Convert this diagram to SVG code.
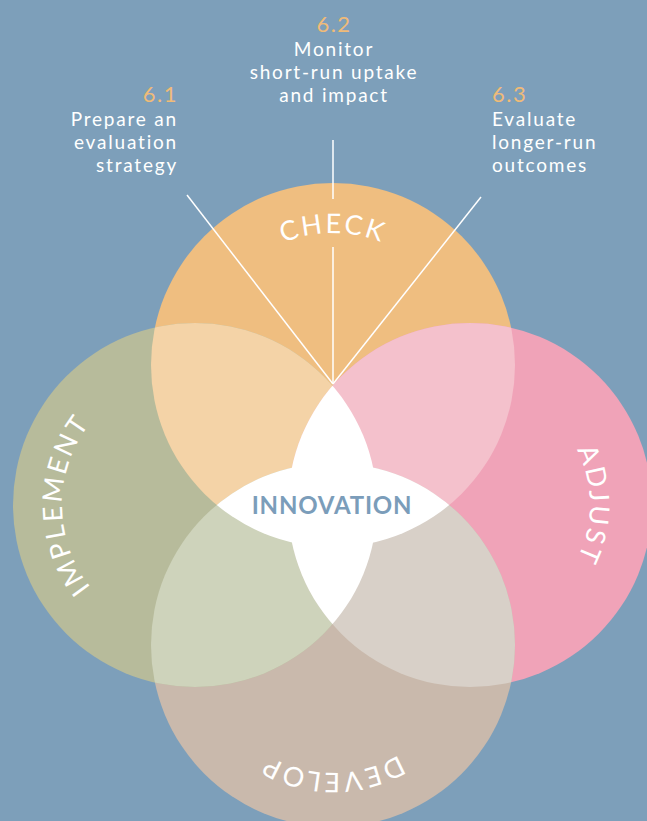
<svg xmlns="http://www.w3.org/2000/svg" width="647" height="821" viewBox="0 0 647 821">
<style>
.lbl{font-family:Lato,"Noto Sans",sans-serif;font-size:19px;letter-spacing:1.8px;fill:#ffffff}
.num{font-family:Lato,"Noto Sans",sans-serif;font-size:22px;letter-spacing:1.5px;fill:#f0bb78}
.arc{font-family:Lato,"Noto Sans",sans-serif;font-size:27px;letter-spacing:2.5px;fill:#ffffff}
.ray{stroke:#ffffff;stroke-width:1.5;fill:none}
</style>
<defs>
<clipPath id="cT"><circle cx="333" cy="365" r="182"/></clipPath>
<clipPath id="cB"><circle cx="333" cy="645" r="182"/></clipPath>
<clipPath id="cL"><circle cx="195" cy="505" r="182"/></clipPath>
<clipPath id="cR"><circle cx="470" cy="505" r="182"/></clipPath>
<path id="pC" d="M 201 365 A 132 132 0 0 1 465 365"/>
<path id="pA" d="M 470 385 A 120 120 0 0 1 470 625"/>
<path id="pD" d="M 461 645 A 128 128 0 0 1 205 645"/>
<path id="pI" d="M 195 638 A 133 133 0 0 1 195 372"/>
</defs>
<rect width="647" height="821" fill="#7d9fba"/>
<g id="circles">
<circle id="check" cx="333" cy="365" r="182" fill="#efbe80"/>
<circle id="adjust" cx="470" cy="505" r="182" fill="#f0a3b8"/>
<circle id="develop" cx="333" cy="645" r="182" fill="#c9b9ac"/>
<circle id="implement" cx="195" cy="505" r="182" fill="#b7bb9b"/>
</g>
<g id="overlaps">
<circle cx="333" cy="365" r="182" fill="#f4d3a7" clip-path="url(#cL)"/>
<circle cx="333" cy="365" r="182" fill="#f4c1cc" clip-path="url(#cR)"/>
<circle cx="333" cy="645" r="182" fill="#ced3bb" clip-path="url(#cL)"/>
<circle cx="333" cy="645" r="182" fill="#d8d0c8" clip-path="url(#cR)"/>
</g>
<g id="innovation">
<circle cx="195" cy="505" r="182" fill="#ffffff" clip-path="url(#cR)"/>
<circle cx="333" cy="365" r="182" fill="#ffffff" clip-path="url(#cB)"/>
<text x="332" y="514" text-anchor="middle" font-family="Lato,'Noto Sans',sans-serif" font-weight="bold" font-size="24" letter-spacing="0.8" fill="#7b9dba">INNOVATION</text>
</g>
<g id="connectors">
<line class="ray" x1="187" y1="195" x2="333" y2="384"/>
<line class="ray" x1="333" y1="140" x2="333" y2="199"/>
<line class="ray" x1="333" y1="247" x2="333" y2="384"/>
<line class="ray" x1="481" y1="197" x2="333" y2="384"/>
</g>
<g id="arc-labels">
<text class="arc"><textPath href="#pC" startOffset="50%" text-anchor="middle">CHECK</textPath></text>
<text class="arc"><textPath href="#pA" startOffset="50%" text-anchor="middle">ADJUST</textPath></text>
<text class="arc"><textPath href="#pD" startOffset="50%" text-anchor="middle">DEVELOP</textPath></text>
<text class="arc"><textPath href="#pI" startOffset="50%" text-anchor="middle">IMPLEMENT</textPath></text>
</g>
<g id="step61" text-anchor="end">
<text class="num" x="178" y="102">6.1</text>
<text class="lbl" x="178" y="126">Prepare an</text>
<text class="lbl" x="178" y="149">evaluation</text>
<text class="lbl" x="178" y="172">strategy</text>
</g>
<g id="step62" text-anchor="middle">
<text class="num" x="334" y="32">6.2</text>
<text class="lbl" x="334" y="56">Monitor</text>
<text class="lbl" x="334" y="79">short-run uptake</text>
<text class="lbl" x="334" y="102">and impact</text>
</g>
<g id="step63" text-anchor="start">
<text class="num" x="492" y="102">6.3</text>
<text class="lbl" x="492" y="126">Evaluate</text>
<text class="lbl" x="492" y="149">longer-run</text>
<text class="lbl" x="492" y="172">outcomes</text>
</g>
</svg>
